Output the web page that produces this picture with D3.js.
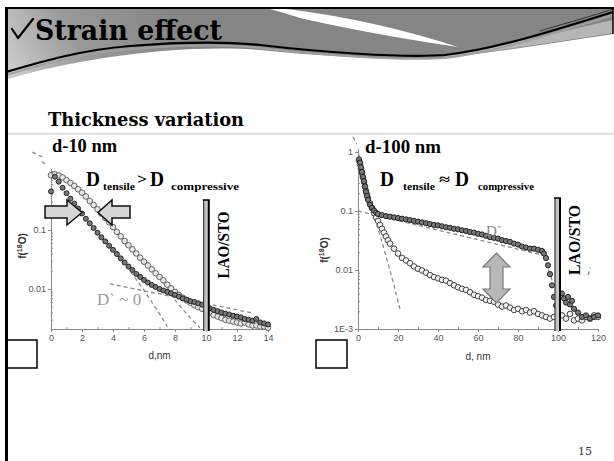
<!DOCTYPE html>
<html>
<head>
<meta charset="utf-8">
<script src="https://cdn.jsdelivr.net/npm/d3@7"></script>
<style>
  html, body { margin: 0; padding: 0; background: #fff; }
  svg { display: block; }
  .axis path, .axis line { stroke: #8a8a8a; stroke-width: 1; }
  .axis text { font-family: "Liberation Sans", Arial, sans-serif; font-size: 9px; fill: #555; }
  .serif { font-family: "Liberation Serif", "Times New Roman", serif; font-weight: bold; }
  .axis-label { font-family: "Liberation Sans", Arial, sans-serif; font-size: 10px; fill: #333; }
</style>
</head>
<body>
<svg id="slide" width="614" height="461"></svg>
<script>
// ---------- data ----------
// left panel: d-10 nm film, depth in nm, 18O fraction
const leftDepth = [0,0.25,0.5,0.75,1,1.25,1.5,1.75,2,2.25,2.5,2.75,3,3.25,3.5,3.75,4,4.25,4.5,4.75,
  5,5.25,5.5,5.75,6,6.25,6.5,6.75,7,7.25,7.5,7.75,8,8.25,8.5,8.75,9,9.25,9.5,9.75,
  10,10.25,10.5,10.75,11,11.25,11.5,11.75,12,12.25,12.5,12.75,13,13.25,13.5,13.75,14];
const leftFracCompressive = [0.45,0.80,0.66,0.52,0.42,0.34,0.28,0.23,0.19,0.155,0.13,0.108,0.090,0.075,0.064,0.054,
  0.046,0.039,0.033,0.028,0.024,0.021,0.018,0.016,0.0142,0.0128,0.0117,0.0108,0.0100,0.0094,0.0089,0.0084,
  0.0079,0.0074,0.0069,0.0066,0.0062,0.0060,0.0057,0.0054,0.0052,0.0047,0.0044,0.0042,0.0040,0.0038,0.0037,
  0.0035,0.0034,0.0033,0.0031,0.0030,0.0029,0.0031,0.0027,0.0026,0.0025];
const leftFracTensile = [0.85,0.88,0.84,0.78,0.70,0.63,0.56,0.49,0.43,0.37,0.31,0.265,0.225,0.19,0.16,0.135,
  0.112,0.093,0.078,0.065,0.055,0.047,0.040,0.034,0.029,0.025,0.0215,0.0185,0.016,0.0140,0.0118,0.0102,
  0.0089,0.0079,0.0071,0.0064,0.0058,0.0053,0.0049,0.0046,0.0043,0.0040,0.0036,0.0034,0.0032,0.0030,0.0029,
  0.0028,0.0027,0.0026,0.0027,0.0025,0.0024,0.0024,0.0023,0.0023,0.0022];

// right panel: d-100 nm film
const rightDepthUpper = [0.5,1,1.5,2,2.5,3,3.5,4,4.5,5,6,7,8,9,10,12,14,16,18,20,22,24,26,28,30,32,34,36,38,40,
  42,44,46,48,50,52,54,56,58,60,62,64,66,68,70,72,74,76,78,80,82,84,86,88,90,92,93,94,95,96,97,98,99,
  102,103,104,105,106,107,108,110,112,114,116,118,120];
const rightFracUpper = [0.75,0.66,0.55,0.46,0.38,0.32,0.26,0.21,0.18,0.155,0.128,0.113,0.102,0.094,0.089,0.085,
  0.082,0.080,0.078,0.076,0.074,0.072,0.070,0.068,0.066,0.064,0.062,0.060,0.058,0.057,0.055,0.053,0.052,0.050,
  0.049,0.047,0.046,0.044,0.043,0.041,0.040,0.038,0.036,0.035,0.034,0.032,0.031,0.030,0.028,0.027,0.025,0.024,
  0.023,0.023,0.022,0.021,0.019,0.016,0.012,0.0085,0.0055,0.0035,0.0025,
  0.0040,0.0033,0.0028,0.0035,0.0026,0.0030,0.0022,0.0019,0.0016,0.0017,0.0015,0.0016,0.0017];
const rightDepthLower = [0.5,1,1.5,2,2.5,3,3.5,4,4.5,5,6,7,8,9,10,11,12,13,14,15,16,18,20,22,24,26,28,30,32,34,
  36,38,40,42,44,46,48,50,52,54,56,58,60,62,64,66,68,70,72,74,76,78,80,82,84,86,88,90,92,94,96,98,
  102,104,106,108,110,112,114,116,118,120];
const rightFracLower = [0.72,0.62,0.52,0.44,0.37,0.31,0.26,0.22,0.19,0.165,0.135,0.112,0.092,0.078,0.068,0.058,
  0.050,0.043,0.037,0.032,0.028,0.023,0.019,0.016,0.0145,0.013,0.0115,0.0105,0.0098,0.0090,0.0082,0.0076,
  0.0072,0.0068,0.0066,0.0060,0.0055,0.0051,0.0048,0.0046,0.0042,0.0038,0.0036,0.0034,0.0031,0.0030,0.0029,
  0.0026,0.0024,0.0025,0.0023,0.0021,0.0022,0.0020,0.0021,0.0019,0.0020,0.0018,0.0017,0.0016,0.0015,0.0016,
  0.0017,0.0015,0.0018,0.0014,0.0015,0.0014,0.0016,0.0015,0.0017,0.0016];

// dashed fit curves [depths, fractions]
const leftFits = [
  [[4, 5, 6, 6.5, 7, 7.5], [0.046, 0.022, 0.0095, 0.0060, 0.0038, 0.0023]],
  [[6, 7, 8, 8.5, 9, 9.6], [0.029, 0.016, 0.0065, 0.0045, 0.0032, 0.0022]],
  [[3.8, 13], [0.0122, 0.0039]],
  [[-1.2, -0.5], [2.1, 1.7]],
  [[-0.6, -0.25], [1.45, 1.25]]
];
const rightFits = [
  [[6, 9, 12, 15, 18, 21], [0.13, 0.065, 0.030, 0.013, 0.0055, 0.0022]],
  [[-2.5, -0.6], [1.8, 1.35]],
  [[0, 95], [0.1, 0.017]],
  [[93, 97.5], [0.017, 0.006]],
  [[115, 116.2], [0.0082, 0.011]]
];

// ticks
const leftXTicks = [0, 2, 4, 6, 8, 10, 12, 14];
const leftYTicks = [0.01, 0.1];
const leftYLabels = ['0.01', '0.1'];
const rightXTicks = [0, 20, 40, 60, 80, 100, 120];
const rightYTicks = [0.001, 0.01, 0.1, 1];
const rightYLabels = ['1E-3', '0.01', '0.1', '1'];


class LogScatter {

  constructor(_config, _series, _fits) {
    this.config = {
      parentElement: _config.parentElement,
      xDomain: _config.xDomain,
      xRange: _config.xRange,
      yDomain: _config.yDomain,
      yRange: _config.yRange,
      xTicks: _config.xTicks,
      xMinorStep: _config.xMinorStep,
      yTicks: _config.yTicks,
      yLabels: _config.yLabels,
      xLabel: _config.xLabel,
      xLabelY: _config.xLabelY,
      yLabelX: _config.yLabelX,
      yLabelY: _config.yLabelY
    };
    this.series = _series;
    this.fits = _fits;
    this.initVis();
    this.renderVis();
  }

  initVis() {
    let vis = this;
    vis.svg = d3.select(vis.config.parentElement);
    vis.chart = vis.svg.append('g');

    vis.xScale = d3.scaleLinear().domain(vis.config.xDomain).range(vis.config.xRange);
    vis.yScale = d3.scaleLog().domain(vis.config.yDomain).range(vis.config.yRange);

    let x0 = vis.config.xDomain[0], x1 = vis.config.xDomain[1];
    vis.xMinor = d3.range(x0 + vis.config.xMinorStep, x1, vis.config.xMinorStep * 2);
    vis.yMinor = [];
    for (let e = -3; e <= 0; e++) {
      for (let m = 1; m <= 9; m++) {
        let v = m * Math.pow(10, e);
        if (v > vis.config.yDomain[0] && v < vis.config.yDomain[1] && !vis.config.yTicks.includes(v)) vis.yMinor.push(v);
      }
    }
    let yBottom = vis.config.yRange[0];
    let xLeft = vis.config.xRange[0];

    vis.chart.append('g').attr('class', 'axis')
      .attr('transform', `translate(0,${yBottom})`)
      .call(d3.axisBottom(vis.xScale).tickValues(vis.config.xTicks).tickSize(3).tickSizeOuter(0).tickPadding(3));
    vis.chart.append('g').attr('class', 'axis')
      .attr('transform', `translate(0,${yBottom})`)
      .call(d3.axisBottom(vis.xScale).tickValues(vis.xMinor).tickSize(-2).tickFormat(''))
      .call(g => g.select('.domain').remove());

    vis.chart.append('g').attr('class', 'axis')
      .attr('transform', `translate(${xLeft},0)`)
      .call(d3.axisLeft(vis.yScale).tickValues(vis.config.yTicks).tickSize(3).tickSizeOuter(0).tickPadding(2)
        .tickFormat((d, i) => vis.config.yLabels[i]));
    vis.chart.append('g').attr('class', 'axis')
      .attr('transform', `translate(${xLeft},0)`)
      .call(d3.axisLeft(vis.yScale).tickValues(vis.yMinor).tickSize(-2).tickFormat(''))
      .call(g => g.select('.domain').remove());

    vis.chart.append('text')
      .attr('class', 'axis-label')
      .attr('text-anchor', 'middle')
      .attr('x', (vis.config.xRange[0] + vis.config.xRange[1]) / 2)
      .attr('y', vis.config.xLabelY)
      .text(vis.config.xLabel);

    let yl = vis.chart.append('text')
      .attr('class', 'axis-label')
      .attr('text-anchor', 'middle')
      .attr('font-weight', 'bold')
      .attr('transform', `translate(${vis.config.yLabelX},${vis.config.yLabelY}) rotate(-90)`);
    yl.append('tspan').text('f(');
    yl.append('tspan').attr('font-size', 7).attr('dy', -4).text('18');
    yl.append('tspan').attr('dy', 4).text('O');
    yl.append('tspan').text(')');
  }

  renderVis() {
    let vis = this;
    let line = d3.line().x(d => vis.xScale(d[0])).y(d => vis.yScale(d[1]));

    vis.chart.selectAll('.fit')
      .data(vis.fits)
      .join('path')
      .attr('class', 'fit')
      .attr('d', f => line(d3.zip(f[0], f[1])))
      .attr('fill', 'none')
      .attr('stroke', '#8c8c8c')
      .attr('stroke-width', 1.3)
      .attr('stroke-dasharray', '4,3');

    vis.series.forEach((s, i) => {
      vis.chart.append('g')
        .selectAll('circle')
        .data(d3.zip(s.depth, s.frac))
        .join('circle')
        .attr('cx', d => vis.xScale(d[0]))
        .attr('cy', d => vis.yScale(d[1]))
        .attr('r', s.r)
        .attr('fill', s.fill)
        .attr('stroke', s.stroke)
        .attr('stroke-width', 0.9);
    });
  }

  // interface band at the film/substrate boundary
  drawBand(d0, d1, yTop) {
    let vis = this;
    let xa = vis.xScale(d0), xb = vis.xScale(d1), yb = vis.config.yRange[0] + 2;
    vis.chart.append('rect').attr('x', xa).attr('y', yTop).attr('width', xb - xa).attr('height', yb - yTop)
      .attr('fill', '#c4c4c4');
    vis.chart.append('line').attr('x1', xa).attr('x2', xa).attr('y1', yTop).attr('y2', yb)
      .attr('stroke', '#333').attr('stroke-width', 1.2);
    vis.chart.append('line').attr('x1', xb).attr('x2', xb).attr('y1', yTop).attr('y2', yb)
      .attr('stroke', '#000').attr('stroke-width', 2);
    vis.chart.append('line').attr('x1', xa - 1).attr('x2', xb + 1).attr('y1', yTop).attr('y2', yTop)
      .attr('stroke', '#000').attr('stroke-width', 1.5);
  }
}

const svg = d3.select('#slide');

// ---------- slide header ----------
const defs = svg.append('defs');
const grad = defs.append('linearGradient').attr('id', 'hdrGrad')
  .attr('gradientUnits', 'userSpaceOnUse')
  .attr('x1', 0).attr('y1', 80).attr('x2', 170).attr('y2', 0);
grad.append('stop').attr('offset', 0).attr('stop-color', '#d4d4d4');
grad.append('stop').attr('offset', 0.45).attr('stop-color', '#9a9a9a');
grad.append('stop').attr('offset', 1).attr('stop-color', '#858585');

svg.append('path')
  .attr('d', 'M8,9 H613 V34 C560,42 500,52 440,58 C380,60 320,56 260,50 C180,44 80,58 8,79 Z')
  .attr('fill', 'url(#hdrGrad)');
svg.append('path')
  .attr('d', 'M445,57 C500,51 560,41 613,33 L613,20 C560,32 500,46 445,55 Z')
  .attr('fill', '#b6b6b6');
svg.append('path')
  .attr('d', 'M270,9 L287,9 Q375,20 458,47 Q370,34 300,18 Q285,13 270,9 Z')
  .attr('fill', '#fff');
svg.append('path')
  .attr('d', 'M6,75 C40,65 80,53 130,49 C180,45 220,44 260,48 C320,55 400,61 445,58 C490,53 540,38 613,15')
  .attr('fill', 'none').attr('stroke', '#a0a0a0').attr('stroke-width', 2);
svg.append('path')
  .attr('d', 'M6,72 C40,62 80,50 130,46 C180,42 220,41 260,45 C320,52 400,58 445,55 C490,50 540,35 613,12')
  .attr('fill', 'none').attr('stroke', '#000').attr('stroke-width', 2.2);
svg.append('path')
  .attr('d', 'M540,31 C570,22 595,15 613,9')
  .attr('fill', 'none').attr('stroke', '#333').attr('stroke-width', 1);

// frame
svg.append('line').attr('x1', 5).attr('x2', 614).attr('y1', 8).attr('y2', 8).attr('stroke', '#000').attr('stroke-width', 2);
svg.append('line').attr('x1', 6.5).attr('x2', 6.5).attr('y1', 7).attr('y2', 461).attr('stroke', '#000').attr('stroke-width', 3);
svg.append('line').attr('x1', 613).attr('x2', 613).attr('y1', 7).attr('y2', 34).attr('stroke', '#000').attr('stroke-width', 1.5);

// titles (check mark bullet drawn as a stroke)
svg.append('path')
  .attr('d', 'M12,29 L18,38 L33,19')
  .attr('fill', 'none').attr('stroke', '#000').attr('stroke-width', 2.2)
  .attr('stroke-linejoin', 'round').attr('stroke-linecap', 'round');
svg.append('text').attr('x', 35).attr('y', 40)
  .attr('font-family', '"DejaVu Serif", serif').attr('font-weight', 'bold').attr('font-size', 27)
  .attr('textLength', 187).attr('lengthAdjust', 'spacingAndGlyphs').text('Strain effect');
svg.append('text').attr('x', 48).attr('y', 126)
  .attr('font-family', '"DejaVu Serif", serif').attr('font-weight', 'bold').attr('font-size', 18)
  .attr('textLength', 196).attr('lengthAdjust', 'spacingAndGlyphs').text('Thickness variation');

svg.append('rect').attr('x', 8).attr('y', 132.5).attr('width', 606).attr('height', 2.5).attr('fill', '#e4e4e4');

// ---------- charts ----------
const left = new LogScatter({
  parentElement: '#slide',
  xDomain: [0, 14], xRange: [51, 268],
  yDomain: [0.00209, 1.1], yRange: [329, 168.6],
  xTicks: leftXTicks, xMinorStep: 1,
  yTicks: leftYTicks, yLabels: leftYLabels,
  xLabel: 'd,nm', xLabelY: 359,
  yLabelX: 26, yLabelY: 246
}, [
  {depth: leftDepth, frac: leftFracTensile, r: 2.8, fill: '#e6e6e6', stroke: '#555'},
  {depth: leftDepth, frac: leftFracCompressive, r: 2.5, fill: '#777', stroke: '#1a1a1a'}
], leftFits);
left.drawBand(9.85, 10.18, 200);

const right = new LogScatter({
  parentElement: '#slide',
  xDomain: [0, 120], xRange: [358, 598],
  yDomain: [0.001, 1.15], yRange: [329, 148.4],
  xTicks: rightXTicks, xMinorStep: 10,
  yTicks: rightYTicks, yLabels: rightYLabels,
  xLabel: 'd, nm', xLabelY: 360,
  yLabelX: 328, yLabelY: 250
}, [
  {depth: rightDepthLower, frac: rightFracLower, r: 2.8, fill: '#f2f2f2', stroke: '#333'},
  {depth: rightDepthUpper, frac: rightFracUpper, r: 2.6, fill: '#777', stroke: '#1a1a1a'}
], rightFits);
right.drawBand(98.5, 101, 198);

// ---------- annotations ----------
function serifText(x, y, size, txt, width, color) {
  let t = svg.append('text').attr('class', 'serif').attr('x', x).attr('y', y)
    .attr('font-size', size).attr('fill', color || '#000').text(txt);
  if (width) t.attr('textLength', width).attr('lengthAdjust', 'spacingAndGlyphs');
  return t;
}

serifText(52, 152, 18, 'd-10 nm', 65);
serifText(86, 186, 20, 'D', 14);
serifText(103, 190, 11, 'tensile', 32);
serifText(137, 184, 14, '>', 10);
serifText(150, 186, 20, 'D', 14);
serifText(171, 190, 11, 'compressive', 68);

serifText(365, 153, 18, 'd-100 nm', 76);
serifText(380, 186, 20, 'D', 14);
serifText(403, 190, 11, 'tensile', 32);
serifText(439, 184, 14, '≈', 11);
serifText(455, 186, 20, 'D', 14);
serifText(478, 190, 11, 'compressive', 56);

svg.append('text').attr('class', 'serif').attr('font-size', 17)
  .attr('text-anchor', 'middle')
  .attr('transform', 'translate(229,245) rotate(-90)')
  .attr('textLength', 67).attr('lengthAdjust', 'spacingAndGlyphs').text('LAO/STO');
svg.append('text').attr('class', 'serif').attr('font-size', 17)
  .attr('text-anchor', 'middle')
  .attr('transform', 'translate(580,240) rotate(-90)')
  .attr('textLength', 70).attr('lengthAdjust', 'spacingAndGlyphs').text('LAO/STO');

svg.append('text').attr('x', 97).attr('y', 305)
  .attr('font-family', '"Liberation Serif", serif').attr('font-size', 17).attr('fill', '#9a9a9a')
  .text('D` ~ 0');
svg.append('text').attr('x', 486).attr('y', 236)
  .attr('font-family', '"Liberation Serif", serif').attr('font-size', 15).attr('fill', '#8a8a8a')
  .text('D`');

// block arrows
svg.append('path')
  .attr('d', 'M45,206 H67 V200 L82,212.5 L67,225 V218 H45 Z')
  .attr('fill', '#d6d6d6').attr('stroke', '#111').attr('stroke-width', 1.5);
svg.append('path')
  .attr('d', 'M130,206 H112 V200 L98,212.5 L112,225 V218 H130 Z')
  .attr('fill', '#d6d6d6').attr('stroke', '#111').attr('stroke-width', 1.5);
svg.append('path')
  .attr('d', 'M496.5,253 L510,267 H503 V289 H510 L496.5,303 L483,289 H490 V267 H483 Z')
  .attr('fill', '#b8b8b8').attr('stroke', '#777').attr('stroke-width', 1.2);

// empty placeholder boxes and slide number
svg.append('rect').attr('x', 7).attr('y', 340).attr('width', 30).attr('height', 28)
  .attr('fill', 'none').attr('stroke', '#000').attr('stroke-width', 1.5);
svg.append('rect').attr('x', 316).attr('y', 340).attr('width', 31).attr('height', 28)
  .attr('fill', 'none').attr('stroke', '#000').attr('stroke-width', 1.5);
svg.append('text').attr('x', 578).attr('y', 455)
  .attr('font-family', '"DejaVu Serif", serif').attr('font-size', 11).attr('fill', '#333').text('15');
</script>
</body>
</html>
